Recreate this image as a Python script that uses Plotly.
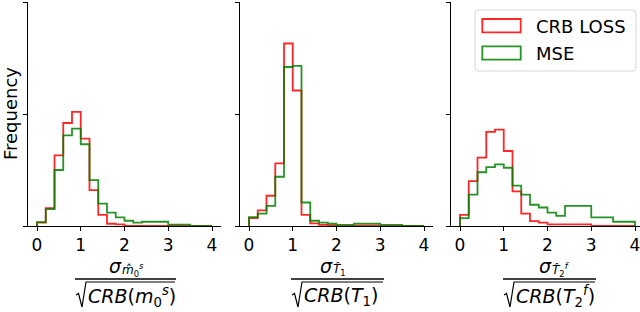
import plotly.graph_objects as go

# ---- data (bin edges shared by all histograms) ----
edges = [0.0, 0.2, 0.4, 0.6, 0.8, 1.0, 1.2, 1.4, 1.6, 1.8, 2.0, 2.2, 2.4, 3.0, 3.5, 4.0]

m0_crb = [0.03, 0.16, 0.63, 0.92, 1.02, 0.78, 0.32, 0.10, 0.02, 0.015, 0, 0, 0, 0, 0]
m0_mse = [0.035, 0.15, 0.50, 0.81, 0.87, 0.73, 0.41, 0.20, 0.12, 0.077, 0.047, 0.03, 0.038, 0.012, 0]
t1_crb = [0.07, 0.14, 0.27, 0.56, 1.63, 1.21, 0.10, 0.023, 0.01, 0.005, 0, 0, 0, 0, 0]
t1_mse = [0.08, 0.11, 0.18, 0.44, 1.42, 1.43, 0.21, 0.047, 0.03, 0.02, 0.01, 0.01, 0.02, 0.01, 0]
t2_crb = [0.10, 0.40, 0.61, 0.84, 0.86, 0.67, 0.31, 0.11, 0.044, 0.03, 0.015, 0.015, 0.015, 0, 0]
t2_mse = [0.07, 0.28, 0.48, 0.525, 0.55, 0.52, 0.36, 0.28, 0.19, 0.165, 0.12, 0.09, 0.18, 0.077, 0.038]

series_names = ["CRB LOSS", "MSE"]
xticks = [0, 1, 2, 3, 4]
yticks = [0, 1, 2]

W, H = 640, 312
X = lambda px: px / W
Y = lambda py: 1 - py / H

RED = "rgba(255,0,0,0.85)"
GREEN = "rgba(0,128,0,0.85)"
FONT = "DejaVu Sans"

fig = go.Figure()

panels = [
    (m0_crb, m0_mse, (28.25, 220.75), [-0.2, 4.2]),
    (t1_crb, t1_mse, (240.25, 432.75), [-0.2, 4.2]),
    (t2_crb, t2_mse, (451.25, 640.0), [-0.2, (640 - 460) / 43.75]),
]

def step_xy(h):
    return [edges[0]] + edges, [0] + list(h) + [0]

for i, (crb, mse, (x0, x1), rng) in enumerate(panels):
    ax = "" if i == 0 else str(i + 1)
    for vals, col, nm in ((crb, RED, series_names[0]), (mse, GREEN, series_names[1])):
        xs, ys = step_xy(vals)
        fig.add_trace(go.Scatter(x=xs, y=ys, mode="lines", line=dict(color=col, width=1.8, shape="hv"),
                                 name=nm, showlegend=False, xaxis="x" + ax, yaxis="y" + ax,
                                 hoverinfo="skip"))
    fig.layout["xaxis" + ax] = dict(domain=[X(x0), X(x1)], range=rng, tickvals=xticks,
                                    ticks="outside", ticklen=4, tickwidth=1, tickcolor="black",
                                    showline=True, linecolor="black", linewidth=1,
                                    showgrid=False, zeroline=False, anchor="y" + ax,
                                    ticklabeloverflow="allow",
                                    tickfont=dict(family=FONT, size=17, color="black"))
    fig.layout["yaxis" + ax] = dict(domain=[1 - 226 / H, 1 - 2 / H], range=[0, 2.0005], tickvals=yticks,
                                    ticks="outside", ticklen=4, tickwidth=1, tickcolor="black",
                                    showline=True, linecolor="black", linewidth=1,
                                    showticklabels=False, showgrid=False, zeroline=False,
                                    anchor="x" + ax)

shapes = []
annotations = []

def txt(px, py, text, size, anchor="left"):
    annotations.append(dict(x=X(px), y=Y(py), xref="paper", yref="paper", text=text, showarrow=False,
                            xanchor=anchor, yanchor="middle", font=dict(family=FONT, size=size, color="black")))

# y label
annotations.append(dict(x=X(10), y=Y(114), xref="paper", yref="paper", text="Frequency",
                        xanchor="center", yanchor="middle",
                        textangle=-90, showarrow=False, font=dict(family=FONT, size=18, color="black")))

# legend (drawn manually to mimic rectangular patches)
lx0, lx1, ly0, ly1, r = 475, 636, 10, 71, 3
path = (f"M {X(lx0 + r)} {Y(ly0)} L {X(lx1 - r)} {Y(ly0)} Q {X(lx1)} {Y(ly0)} {X(lx1)} {Y(ly0 + r)} "
        f"L {X(lx1)} {Y(ly1 - r)} Q {X(lx1)} {Y(ly1)} {X(lx1 - r)} {Y(ly1)} "
        f"L {X(lx0 + r)} {Y(ly1)} Q {X(lx0)} {Y(ly1)} {X(lx0)} {Y(ly1 - r)} "
        f"L {X(lx0)} {Y(ly0 + r)} Q {X(lx0)} {Y(ly0)} {X(lx0 + r)} {Y(ly0)} Z")
shapes.append(dict(type="path", path=path, xref="paper", yref="paper",
                   line=dict(color="rgb(214,214,214)", width=1), fillcolor="rgba(255,255,255,0.8)"))
for (py0, py1, col, nm, ty) in ((19, 32.3, RED, series_names[0], 26), (46.3, 59.7, GREEN, series_names[1], 53.5)):
    shapes.append(dict(type="rect", xref="paper", yref="paper", x0=X(482.3), x1=X(520.7), y0=Y(py0), y1=Y(py1),
                       line=dict(color=col, width=1.8), fillcolor="white"))
    txt(534, ty, nm, 18)

# x labels as fractions: (sigma x, subscript symbol, sub-index, sup-index, denominator symbol, bar x0, bar x1)
fracs = [
    (107, "m̂", "0", "s", "m", 75, 176),
    (318, "T̂", "1", "", "T", 291, 384),
    (537, "T̂", "2", "f", "T", 503, 596),
]
for sx, sym, sub, sup, dsym, bx0, bx1 in fracs:
    supt = f"<sup><i>{sup}</i></sup>" if sup else ""
    # numerator
    txt(sx, 266, "<i>σ</i>", 19)
    txt(sx + 13, 270, f"<i>{sym}</i><sub>{sub}</sub>{supt}", 12)
    # fraction bar
    shapes.append(dict(type="line", xref="paper", yref="paper", x0=X(bx0), x1=X(bx1), y0=Y(279), y1=Y(279),
                       line=dict(color="black", width=1.5)))
    # denominator: radical sign with overline, then text
    ox0 = bx0 + 11
    rad = (f"M {X(bx0 + 1)} {Y(295)} L {X(bx0 + 3.5)} {Y(293.5)} L {X(bx0 + 7)} {Y(307)} "
           f"L {X(ox0)} {Y(282)} L {X(bx1 - 1)} {Y(282)}")
    shapes.append(dict(type="path", path=rad, xref="paper", yref="paper",
                       line=dict(color="black", width=1.2)))
    txt(ox0, 296, f"<i>CRB</i>(<i>{dsym}</i><sub>{sub}</sub>{supt})", 19)

fig.update_layout(width=W, height=H, margin=dict(l=0, r=0, t=0, b=0), paper_bgcolor="white",
                  plot_bgcolor="white", showlegend=False, shapes=shapes, annotations=annotations)

fig.write_html("out.html", config={"displayModeBar": False},
               post_script="document.body.style.margin='0';document.body.style.overflow='hidden';")
